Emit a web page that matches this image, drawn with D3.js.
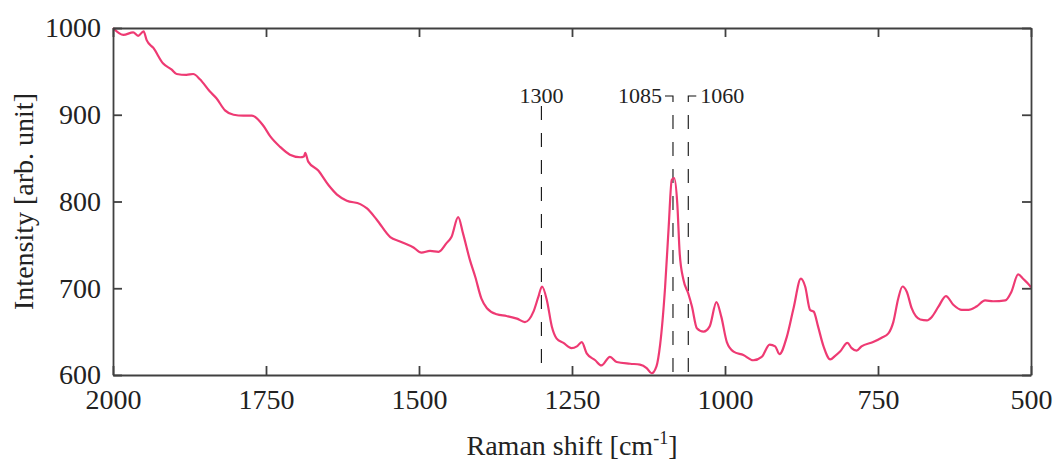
<!DOCTYPE html>
<html>
<head>
<meta charset="utf-8">
<script src="https://cdn.jsdelivr.net/npm/d3@7"></script>
<style>
  body { margin: 0; background: #fff; }
  svg text { font-family: "Liberation Serif", "Times New Roman", serif; fill: #222; }
</style>
</head>
<body>
<div id="vis"></div>
<script>
// Raman spectrum
const shift = [2000,1983,1967,1959,1950,1945,1934,1918,1904,1896,1880,1869,1858,1842,1831,1817,1803,1787,1773,1754,
  1743,1727,1711,1694,1688,1686,1681,1665,1648,1634,1618,1596,1585,1569,1547,1531,1509,1496,1482,1468,
  1455,1447,1436,1428,1417,1408,1398,1389,1373,1357,1340,1327,1313,1305,1299,1291,1283,1275,1264,1251,
  1242,1234,1226,1212,1202,1188,1177,1155,1139,1128,1120,1112,1106,1098,1092,1087,1083,1078,1074,1068,
  1060,1054,1046,1035,1025,1014,1006,997,986,970,954,940,927,918,911,899,888,876,869,861,
  855,848,839,828,820,812,800,793,785,777,758,744,733,725,717,710,703,695,681,670,
  662,651,639,627,613,602,589,575,562,542,532,521,513,502,500];
const intensity = [1000,992,995,991,996,986,977,959,952,947,946,947,941,927,919,905,900,899,899,887,
  875,863,854,851,852,856,846,836,819,808,801,797,792,779,759,754,747,741,743,742,
  752,759,782,763,733,713,688,677,670,668,665,661,673,690,702,686,656,642,637,631,
  633,638,625,617,611,621,615,613,612,608,602,610,635,700,771,825,827,798,740,710,
  694,679,654,650,656,684,667,638,627,623,617,621,635,633,624,644,677,711,702,675,
  673,656,633,618,622,627,637,631,628,633,638,643,648,661,688,702,696,677,664,663,
  667,679,691,681,675,675,679,686,685,686,696,716,711,703,701];

const xTicks = [2000, 1750, 1500, 1250, 1000, 750, 500];
const yTicks = [600, 700, 800, 900, 1000];

// marked bands: position, label, which side the label hangs
const marks = [1300, 1085, 1060];
const markLabels = ["1300", "1085", "1060"];
const markSide = ["top", "left", "right"];

const W = 1055, H = 461;
const margin = {top: 28, right: 24, bottom: 86, left: 113};
const width = W - margin.left - margin.right,
      height = H - margin.top - margin.bottom;

const axisColor = "#404040";
const lineColor = "#ee3a73";

const svg = d3.select("#vis").append("svg")
    .attr("width", W)
    .attr("height", H);

const g = svg.append("g")
    .attr("transform", `translate(${margin.left},${margin.top})`);

const x = d3.scaleLinear().domain([2000, 500]).range([0, width]);
const y = d3.scaleLinear().domain([600, 1000]).range([height, 0]);

// dashed band markers
marks.forEach(function (m, i) {
  const px = x(m);
  let path, tx, anchor;
  if (markSide[i] === "top") {
    path = `M${px},${78} V${height}`;
    tx = px; anchor = "middle";
  } else if (markSide[i] === "left") {
    path = `M${px - 8},${68} H${px} V${height}`;
    tx = px - 11; anchor = "end";
  } else {
    path = `M${px + 8},${68} H${px} V${height}`;
    tx = px + 12; anchor = "start";
  }
  g.append("path")
    .attr("d", path)
    .attr("fill", "none")
    .attr("stroke", "#111")
    .attr("stroke-width", 1.1)
    .attr("stroke-dasharray", "14,13");
  g.append("text")
    .attr("x", tx)
    .attr("y", 75)
    .attr("text-anchor", anchor)
    .style("font-size", "22px")
    .text(markLabels[i]);
});

// spectrum
const line = d3.line()
    .x(function (d) { return x(d[0]); })
    .y(function (d) { return y(d[1]); })
    .curve(d3.curveMonotoneX);

g.append("path")
    .datum(d3.zip(shift, intensity))
    .attr("d", line)
    .attr("fill", "none")
    .attr("stroke", lineColor)
    .attr("stroke-width", 2.2)
    .attr("stroke-linejoin", "round");

// axes, ticks pointing inward on all four sides
const tick = 9;
g.append("g")
    .attr("transform", `translate(0,${height})`)
    .call(d3.axisBottom(x).tickValues(xTicks).tickSizeInner(-tick).tickSizeOuter(0).tickPadding(14).tickFormat(d3.format("d")))
    .call(styleAxis);
g.append("g")
    .call(d3.axisTop(x).tickValues(xTicks).tickSizeInner(-tick).tickSizeOuter(0).tickFormat(""))
    .call(styleAxis);
g.append("g")
    .call(d3.axisLeft(y).tickValues(yTicks).tickSizeInner(-tick).tickSizeOuter(0).tickPadding(12).tickFormat(d3.format("d")))
    .call(styleAxis);
g.append("g")
    .attr("transform", `translate(${width},0)`)
    .call(d3.axisRight(y).tickValues(yTicks).tickSizeInner(-tick).tickSizeOuter(0).tickFormat(""))
    .call(styleAxis);

function styleAxis(sel) {
  sel.select(".domain").attr("stroke", axisColor).attr("stroke-width", 1.8);
  sel.selectAll(".tick line").attr("stroke", axisColor).attr("stroke-width", 1.8);
  sel.selectAll(".tick text")
    .attr("fill", "#222")
    .style("font-family", "'Liberation Serif', serif")
    .style("font-size", "28px");
}

// axis titles
const xt = svg.append("text")
    .attr("x", margin.left + width / 2)
    .attr("y", 455)
    .attr("text-anchor", "middle")
    .style("font-size", "28px");
xt.append("tspan").text("Raman shift [cm");
xt.append("tspan").attr("dy", -11).style("font-size", "18px").text("-1");
xt.append("tspan").attr("dy", 11).text("]");

svg.append("text")
    .attr("transform", `translate(33,${margin.top + height / 2}) rotate(-90)`)
    .attr("text-anchor", "middle")
    .style("font-size", "28px")
    .text("Intensity [arb. unit]");
</script>
</body>
</html>
